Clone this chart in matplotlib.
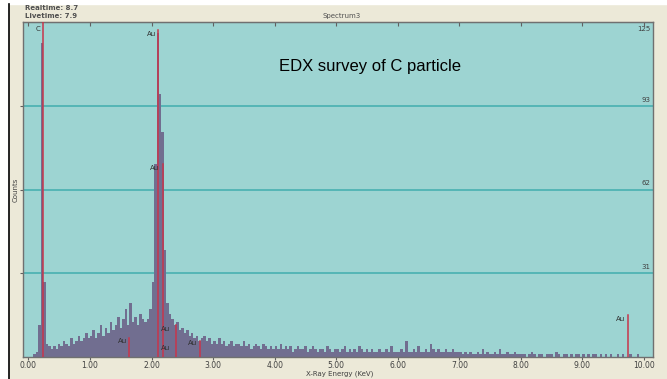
import matplotlib.pyplot as plt
from matplotlib.patches import Rectangle
from matplotlib.lines import Line2D
import numpy as np

# counts per 0.04 keV channel, channel centres 0.02, 0.06, ... 9.98
counts = [
    0, 0, 1, 2, 12, 117, 28, 5, 4, 3, 4, 3, 5, 4, 6, 5, 4, 7, 5, 6, 8, 6, 7, 9, 7,
    8, 10, 7, 9, 12, 8, 11, 9, 13, 10, 12, 15, 11, 14, 18, 12, 20, 13, 15, 12, 16, 14, 13, 14, 18,
    28, 72, 121, 98, 84, 40, 20, 16, 14, 12, 13, 10, 11, 9, 10, 8, 9, 7, 8, 6, 7, 8, 6, 7, 5,
    6, 5, 7, 5, 6, 4, 5, 6, 4, 5, 5, 4, 6, 4, 5, 3, 4, 5, 4, 3, 5, 4, 3, 4, 3,
    4, 3, 5, 3, 4, 3, 4, 2, 3, 4, 3, 3, 4, 2, 3, 4, 3, 2, 3, 3, 2, 4, 3, 2, 3,
    3, 2, 3, 4, 2, 3, 2, 3, 2, 4, 3, 2, 3, 2, 3, 2, 2, 3, 2, 2, 3, 2, 4, 2, 2,
    2, 3, 2, 6, 2, 2, 3, 2, 4, 2, 2, 3, 2, 5, 3, 2, 3, 2, 2, 3, 2, 2, 3, 2, 2,
    2, 1, 2, 1, 2, 1, 1, 2, 1, 3, 1, 2, 1, 1, 2, 1, 3, 1, 1, 2, 1, 1, 2, 1, 1,
    1, 1, 0, 1, 2, 1, 0, 1, 1, 0, 1, 1, 1, 0, 2, 1, 0, 1, 1, 0, 1, 0, 1, 1, 0,
    1, 0, 1, 0, 1, 1, 0, 1, 0, 1, 0, 1, 0, 0, 1, 0, 1, 0, 0, 1, 0, 0, 1, 0, 0,
]
energy = np.arange(len(counts)) * 0.04 + 0.02

# element marker lines (keV, height in counts)
marker_energy = [0.24, 2.10, 2.19, 2.40, 1.63, 2.79, 9.74]
marker_height = [125, 122, 72, 12, 7, 6, 15.5]

# label text, energy, count position
label_text = ["C", "Au", "Au", "Au", "Au", "Au", "Au", "Au"]
label_e = [0.20, 2.08, 2.13, 2.31, 2.31, 1.60, 2.74, 9.69]
label_y = [122.5, 120.5, 70.5, 10.5, 3.2, 5.8, 5.2, 14.0]

x_ticks = [0, 1, 2, 3, 4, 5, 6, 7, 8, 9, 10]
y_grid = [31.25, 62.5, 93.75, 125]
y_labels = ["31", "62", "93", "125"]

beige = "#ece9d8"
teal = "#9dd4d2"
fig = plt.figure(figsize=(6.67, 3.79), dpi=100, facecolor=beige)

# white strip and black edge like the original screenshot
fig.patches.append(Rectangle((0, 0), 8 / 667, 1, transform=fig.transFigure, color="white", zorder=0))
fig.patches.append(Rectangle((0, 1 - 4 / 379), 1, 4 / 379, transform=fig.transFigure, color="white", zorder=0))
fig.lines.append(Line2D([8.5 / 667, 8.5 / 667], [0, 1 - 4 / 379], transform=fig.transFigure, color="black", lw=1.2))

ax = fig.add_axes([23 / 667, 1 - 357 / 379, 630 / 667, 335 / 379])
ax.set_facecolor(teal)
ax.set_xlim(-0.089, 10.146)
ax.set_ylim(0, 125)

for g in y_grid[:-1]:
    ax.axhline(g, color="#4fb3b3", lw=1.3, zorder=1)

ax.bar(energy, counts, width=0.04, color="#716e90", edgecolor="none", zorder=2)

for e, h in zip(marker_energy, marker_height):
    ax.plot([e, e], [0, h], color="#c8354b", lw=1.1, zorder=3)

for t, e, y in zip(label_text, label_e, label_y):
    ax.text(e, y, t, fontsize=5, color="#303030", ha="right", va="center", zorder=4)

for g, t in zip(y_grid[:-1], y_labels[:-1]):
    ax.text(10.1, g + 1.2, t, fontsize=5, color="#404040", ha="right", va="bottom")
ax.text(10.1, 123.5, y_labels[-1], fontsize=5, color="#404040", ha="right", va="top")

ax.set_xticks(x_ticks)
ax.set_xticklabels(["%.2f" % v for v in x_ticks], fontsize=5.5, color="#404040")
ax.tick_params(axis="x", length=2.5, width=0.8, color="#606060", pad=0.5)
top = ax.secondary_xaxis("top")
top.set_xticks(x_ticks)
top.set_xticklabels([])
top.tick_params(direction="in", length=3, width=0.8, color="#606060")
top.spines["top"].set_color("#707070")
ax.set_yticks(y_grid[:-1])
ax.set_yticklabels([])
ax.tick_params(axis="y", length=2, width=0.8, color="#606060")
for s in ax.spines.values():
    s.set_color("#707070")
    s.set_linewidth(1.0)

fig.text(340 / 667, 1 - 374 / 379, "X-Ray Energy (KeV)", fontsize=5, color="#404040", ha="center", va="center")
fig.text(16 / 667, 1 - 190 / 379, "Counts", rotation=90, fontsize=5, color="#404040", ha="center", va="center")
fig.text(25 / 667, 1 - 8 / 379, "Realtime: 8.7", fontsize=5, color="#505050", ha="left", va="center", fontweight="bold")
fig.text(25 / 667, 1 - 16 / 379, "Livetime: 7.9", fontsize=5, color="#505050", ha="left", va="center", fontweight="bold")
fig.text(342 / 667, 1 - 16 / 379, "Spectrum3", fontsize=5, color="#505050", ha="center", va="center")

fig.text(370 / 667, 1 - 66 / 379, "EDX survey of C particle", fontsize=12,
         family="Liberation Sans", color="black", ha="center", va="center")

fig.savefig("out.png", dpi=100, facecolor=beige)
